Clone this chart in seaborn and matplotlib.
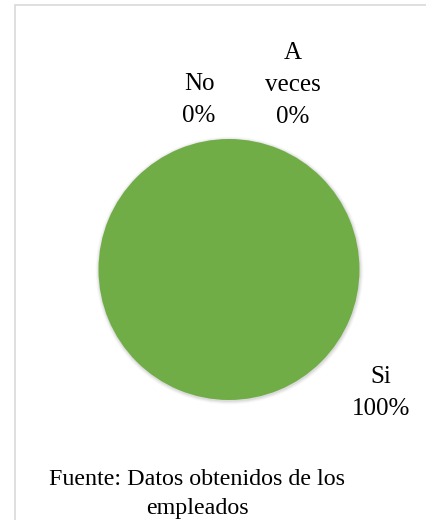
import matplotlib
matplotlib.use("Agg")
import matplotlib.pyplot as plt
from matplotlib.patches import Rectangle, Circle
import seaborn as sns

# Survey answers and their shares
categories = ["Si", "No", "A veces"]
shares = [100, 0, 0]
label_names = ["Si", "No", "A\nveces"]
slice_colors = ["#70AD47", "#ED7D31", "#A5A5A5"]
source_note = "Fuente: Datos obtenidos de los\nempleados"

sns.set_theme(style="white")
plt.rcParams["font.family"] = ["Liberation Serif", "DejaVu Serif"]

W, H = 427, 520
fig = plt.figure(figsize=(W / 100, H / 100), dpi=100)
ax = fig.add_axes([0, 0, 1, 1])
ax.set_xlim(0, W)
ax.set_ylim(0, H)
ax.set_aspect("equal")
ax.axis("off")

cx, cy, r = 229, H - 269.5, 130.5

# soft halo under the pie
for i, a in enumerate([0.05, 0.04, 0.03, 0.02]):
    ax.add_patch(Circle((cx + 0.5, cy - 1), r + 0.8 + i * 0.9, color="black",
                        alpha=a, lw=0, zorder=1))

ax.pie(shares, colors=slice_colors, startangle=90, counterclock=False,
       center=(cx, cy), radius=r, frame=True,
       wedgeprops=dict(linewidth=0, zorder=2))
ax.set_xlim(0, W)
ax.set_ylim(0, H)
ax.axis("off")

label_pos = {"Si": (381, 393), "No": (199, 100), "A veces": (293, 85)}
for cat, name, val in zip(categories, label_names, shares):
    x, y = label_pos[cat]
    ax.text(x, H - y, f"{name}\n{val:.0f}%", ha="center", va="center",
            multialignment="center", fontsize=18, color="black",
            linespacing=1.6, zorder=3)

ax.text(197.5, H - 494, source_note, ha="center", va="center",
        multialignment="center", fontsize=17.3, color="black",
        linespacing=1.45, zorder=3)

# chart border (its right and bottom sides fall outside the canvas)
fig.patches.append(Rectangle((15 / W, -0.1), 1.1, (H - 5) / H + 0.1,
                             transform=fig.transFigure, fill=False,
                             edgecolor="#D9D9D9", lw=1.2))

fig.savefig("out.png", dpi=100)
